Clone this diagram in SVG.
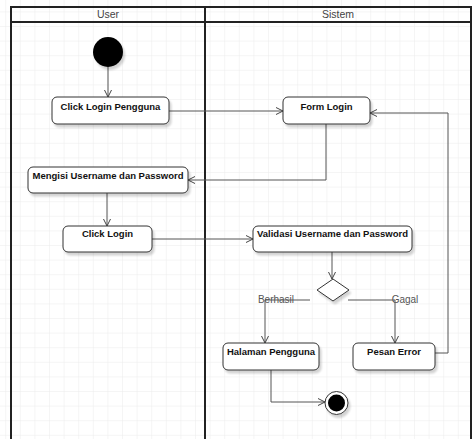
<svg xmlns="http://www.w3.org/2000/svg" width="472" height="439" viewBox="0 0 472 439">
  <defs>
    <pattern id="grid" x="5.2" y="11.4" width="14.6" height="14.6" patternUnits="userSpaceOnUse">
      <path d="M0,0 H14.6 M0,0 V14.6" fill="none" stroke="#ebebeb" stroke-width="1"/>
    </pattern>
    <marker id="arr" markerWidth="10" markerHeight="10" refX="8" refY="4" orient="auto" markerUnits="userSpaceOnUse">
      <path d="M1,0.5 L8,4 L1,7.5" fill="none" stroke="#444" stroke-width="1"/>
    </marker>
    <filter id="sh" x="-20%" y="-20%" width="140%" height="160%">
      <feGaussianBlur in="SourceAlpha" stdDeviation="1.2"/>
      <feOffset dx="2" dy="3" result="b"/>
      <feComponentTransfer><feFuncA type="linear" slope="0.18"/></feComponentTransfer>
      <feMerge><feMergeNode/><feMergeNode in="SourceGraphic"/></feMerge>
    </filter>
  </defs>
  <style>
    .lane { fill: none; stroke: #222; stroke-width: 2; }
    .hdr { font-family: "Liberation Sans", Arial, sans-serif; font-size: 10.5px; fill: #444; text-anchor: middle; }
    .act { fill: #fff; stroke: #333; stroke-width: 1; filter: url(#sh); }
    .lbl { font-family: "Liberation Sans", Arial, sans-serif; font-size: 9.5px; font-weight: bold; fill: #111; text-anchor: middle; }
    .con { fill: none; stroke: #555; stroke-width: 1; }
    .guard { font-family: "Liberation Sans", Arial, sans-serif; font-size: 10px; fill: #555; text-anchor: middle; }
  </style>
  <rect width="472" height="439" fill="#fff"/>
  <rect width="472" height="439" fill="url(#grid)"/>

  <g id="swimlanes">
    <path class="lane" d="M11,439 V7 H471 V439 M11,22 H471 M205,7 V439"/>
    <text class="hdr" x="108" y="17.5">User</text>
    <text class="hdr" x="338" y="17.5">Sistem</text>
  </g>

  <g id="connectors">
    <path class="con" d="M108,67 V97" marker-end="url(#arr)"/>
    <path class="con" d="M169,111 H283" marker-end="url(#arr)"/>
    <path class="con" d="M326,124 V180 H188" marker-end="url(#arr)"/>
    <path class="con" d="M107,193 V226" marker-end="url(#arr)"/>
    <path class="con" d="M152,239 H253" marker-end="url(#arr)"/>
    <path class="con" d="M332,252 V279" marker-end="url(#arr)"/>
    <path class="con" d="M310,300 H265 V343" marker-end="url(#arr)"/>
    <path class="con" d="M348,300 H395 V343" marker-end="url(#arr)"/>
    <path class="con" d="M435,353 H448 V113 H370" marker-end="url(#arr)"/>
    <path class="con" d="M271,370 V402 H325" marker-end="url(#arr)"/>
    <text class="guard" x="276" y="302.5">Berhasil</text>
    <text class="guard" x="405" y="302.5">Gagal</text>
  </g>

  <g id="start">
    <circle cx="108" cy="52" r="15" fill="#000" filter="url(#sh)"/>
  </g>
  <g id="click-login-pengguna">
    <rect class="act" x="52" y="97" width="117" height="27" rx="5"/>
    <text class="lbl" x="110.5" y="109.5">Click Login Pengguna</text>
  </g>
  <g id="form-login">
    <rect class="act" x="283" y="97" width="87" height="27" rx="5"/>
    <text class="lbl" x="326.5" y="109.5">Form Login</text>
  </g>
  <g id="mengisi">
    <rect class="act" x="28" y="167" width="160" height="26" rx="5"/>
    <text class="lbl" x="108" y="178.5">Mengisi Username dan Password</text>
  </g>
  <g id="click-login">
    <rect class="act" x="63" y="226" width="89" height="26" rx="5"/>
    <text class="lbl" x="107.5" y="236.5">Click Login</text>
  </g>
  <g id="validasi">
    <rect class="act" x="253" y="226" width="159" height="26" rx="5"/>
    <text class="lbl" x="332.5" y="236.5">Validasi Username dan Password</text>
  </g>
  <g id="decision">
    <path d="M333,279 L349,290 L333,301 L317,290 Z" fill="#fff" stroke="#333" stroke-width="1" filter="url(#sh)"/>
  </g>
  <g id="halaman-pengguna">
    <rect class="act" x="223" y="343" width="96" height="27" rx="5"/>
    <text class="lbl" x="271" y="354.5">Halaman Pengguna</text>
  </g>
  <g id="pesan-error">
    <rect class="act" x="353" y="343" width="82" height="27" rx="5"/>
    <text class="lbl" x="394" y="354.5">Pesan Error</text>
  </g>
  <g id="end">
    <circle cx="336.5" cy="403" r="11.5" fill="#fff" stroke="#333" stroke-width="1" filter="url(#sh)"/>
    <circle cx="336.5" cy="403" r="8.5" fill="#000"/>
  </g>
</svg>
